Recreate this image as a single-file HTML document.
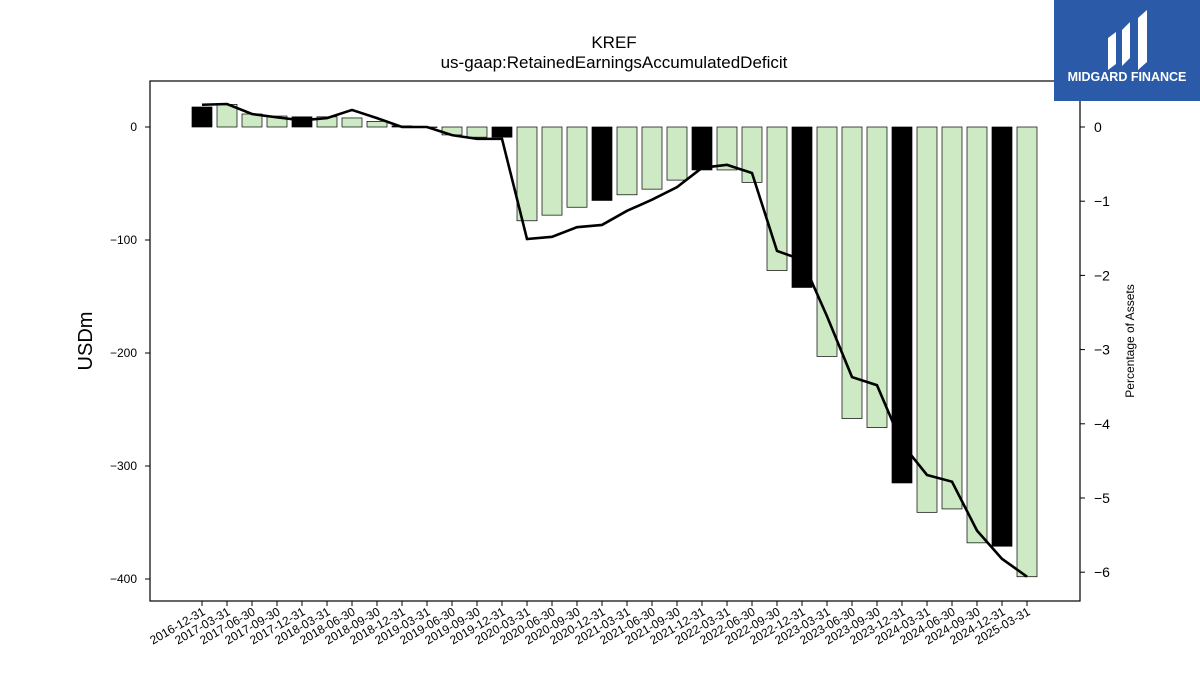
<!DOCTYPE html>
<html><head><meta charset="utf-8"><style>
body{margin:0;background:#fff;font-family:"Liberation Sans","DejaVu Sans",sans-serif}
</style></head><body>
<svg id="c" width="1200" height="675" xmlns="http://www.w3.org/2000/svg">
<rect x="0" y="0" width="1200" height="675" fill="#fff"/>
<text x="614" y="48" text-anchor="middle" font-size="17">KREF</text>
<text x="614" y="68" text-anchor="middle" font-size="17">us-gaap:RetainedEarningsAccumulatedDeficit</text>
<g id="bars"></g><g id="line"></g><g id="axes"></g>
<rect x="150" y="81" width="930" height="520" fill="none" stroke="#000" stroke-width="1.2"/>
<text transform="translate(92,341) rotate(-90)" text-anchor="middle" font-size="20">USDm</text>
<text transform="translate(1134,341) rotate(-90)" text-anchor="middle" font-size="12">Percentage of Assets</text>
<g>
<rect x="1054" y="0" width="146" height="101" fill="#2a5aa8"/>
<path d="M1108 70 L1108 38 L1116 32 L1116 64 Z M1122 66 L1122 30 L1130 22 L1130 58 Z M1138 70 L1138 18 L1147 10 L1147 62 Z" fill="#fff"/>
<text x="1127" y="81" text-anchor="middle" font-size="12.5" font-weight="bold" fill="#fff">MIDGARD FINANCE</text>
</g>
</svg>
<script>
const categories=["2016-12-31","2017-03-31","2017-06-30","2017-09-30","2017-12-31","2018-03-31","2018-06-30","2018-09-30","2018-12-31","2019-03-31","2019-06-30","2019-09-30","2019-12-31","2020-03-31","2020-06-30","2020-09-30","2020-12-31","2021-03-31","2021-06-30","2021-09-30","2021-12-31","2022-03-31","2022-06-30","2022-09-30","2022-12-31","2023-03-31","2023-06-30","2023-09-30","2023-12-31","2024-03-31","2024-06-30","2024-09-30","2024-12-31","2025-03-31"];
const values=[17.7,20,11.5,9.7,9,9,8,5,1,0,-7,-9,-9,-83,-78,-71,-65,-60,-55,-47,-38,-38,-49,-127,-142,-203,-258,-266,-315,-341,-338,-368,-371,-398];
const pct=[0.30,0.31,0.175,0.13,0.09,0.12,0.23,0.12,0,0,-0.11,-0.16,-0.16,-1.51,-1.48,-1.35,-1.32,-1.13,-0.98,-0.81,-0.55,-0.51,-0.62,-1.67,-1.79,-2.55,-3.37,-3.48,-4.27,-4.69,-4.78,-5.44,-5.82,-6.06];
const leftTicks=[0,-100,-200,-300,-400];
const rightTicks=[0,-1,-2,-3,-4,-5,-6];
const NS="http://www.w3.org/2000/svg";
const xS=i=>202+i*(1027-202)/(categories.length-1);
const yL=v=>127-v*1.13;
const yR=v=>127-v*74.2;
function mk(t,a,p){const e=document.createElementNS(NS,t);for(const k in a)e.setAttribute(k,a[k]);p.appendChild(e);return e;}
const bars=document.getElementById('bars'),axes=document.getElementById('axes'),line=document.getElementById('line');
values.forEach((v,i)=>{
 const dec=categories[i].endsWith("12-31");
 const y0=yL(0),y1=yL(v);
 const r=mk('rect',{x:xS(i)-10,y:Math.min(y0,y1),width:20,height:Math.max(0.5,Math.abs(y1-y0)),fill:dec?'#000':'#cdeac4',stroke:'#000','stroke-width':0.7},bars);
 
 
 mk('line',{x1:xS(i),x2:xS(i),y1:601,y2:606,stroke:'#000'},axes);
 const t=mk('text',{x:xS(i)+4,y:614,'text-anchor':'end','font-size':12,transform:`rotate(-30 ${xS(i)+4} 614)`},axes);
 t.textContent=categories[i];
 
 
});
const pts=pct.map((v,i)=>xS(i)+','+yR(v)).join(' ');
const pl=mk('polyline',{points:pts,fill:'none',stroke:'#000','stroke-width':2.6},line);


leftTicks.forEach(v=>{
 mk('line',{x1:145,x2:150,y1:yL(v),y2:yL(v),stroke:'#000'},axes);
 const t=mk('text',{x:137,y:yL(v)+4,'text-anchor':'end','font-size':12},axes);
 t.textContent=v<0?'\u2212'+(-v):v;
 
 
});
rightTicks.forEach(v=>{
 mk('line',{x1:1080,x2:1085,y1:yR(v),y2:yR(v),stroke:'#000'},axes);
 const t=mk('text',{x:1094,y:yR(v)+5,'font-size':14},axes);
 t.textContent=v<0?'\u2212'+(-v):v;
 
 
});
</script>
</body></html>
